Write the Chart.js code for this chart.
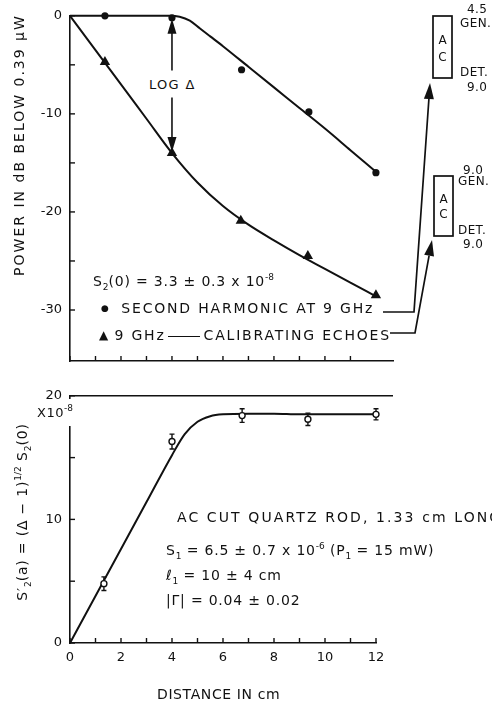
<!DOCTYPE html>
<html>
<head>
<meta charset="utf-8">
<script src="https://cdn.jsdelivr.net/npm/chart.js@4.4.1/dist/chart.umd.min.js"></script>
<style>
html,body{margin:0;padding:0;background:#fff;}
#wrap{position:relative;width:492px;height:706px;overflow:hidden;background:#fff;font-family:"DejaVu Sans",sans-serif;color:#111;}
canvas{position:absolute;left:0;}
svg{position:absolute;left:0;top:0;}
.t{position:absolute;white-space:nowrap;font-size:14px;line-height:1;letter-spacing:1.8px;transform:translateY(-50%);}
.r{position:absolute;white-space:nowrap;font-size:14px;line-height:1;letter-spacing:1.8px;transform:translate(-50%,-50%) rotate(-90deg);}
.c{position:absolute;white-space:nowrap;font-size:12px;line-height:1;transform:translate(-50%,-50%);}
.sm{font-size:12px;letter-spacing:0.4px;}
.num{letter-spacing:0.8px;}
sub,sup{font-size:9px;line-height:0;letter-spacing:0;}
.bg{background:#fff;padding:7px 3px;}
.dash{display:inline-block;width:32px;border-top:1.6px solid #111;vertical-align:middle;margin:0 4px 0 2px;}
.gap{position:absolute;background:#fff;}
.mk{position:relative;letter-spacing:0;}
</style>
</head>
<body>
<div id="wrap">
<canvas id="topChart" width="492" height="380" style="top:0px"></canvas>
<canvas id="botChart" width="492" height="326" style="top:380px"></canvas>
<svg width="492" height="706" viewBox="0 0 492 706">
  <g fill="none" stroke="#111" stroke-width="1.7">
    <rect x="433" y="16" width="19" height="62"/>
    <rect x="434" y="176" width="19" height="60"/>
    <polyline points="383,312 414,312 428.9,99"/>
    <polyline points="390,333 415,333 429.1,255.7"/>
  </g>
  <g fill="#111">
    <polygon points="430,83 433.9,99.35 423.9,98.65"/>
    <polygon points="432,240 434,256.6 424.2,254.8"/>
  </g>
</svg>

<div class="r" style="left:19px;top:145px;letter-spacing:2px;">POWER IN dB BELOW 0.39 μW</div>
<div class="t bg" style="left:146px;top:84px;font-size:13px;letter-spacing:1.3px;">LOG Δ</div>
<div class="t num" style="left:93px;top:281px;">S<sub>2</sub>(0) = 3.3 ± 0.3 x 10<sup>-8</sup></div>
<div class="t" style="left:101px;top:308px;"><span class="mk" style="font-size:9px;top:-2px;">●</span>&nbsp; SECOND HARMONIC AT 9 GHz</div>
<div class="t" style="left:99px;top:335px;"><span class="mk" style="font-size:12px;top:-1px;">▲</span> 9 GHz<span class="dash"></span>CALIBRATING ECHOES</div>

<div class="c" style="left:442.5px;top:40px;">A</div>
<div class="c" style="left:442.5px;top:57px;">C</div>
<div class="t sm" style="left:467px;top:9px;">4.5</div>
<div class="t sm" style="left:460px;top:23px;">GEN.</div>
<div class="t sm" style="left:460px;top:72px;">DET.</div>
<div class="t sm" style="left:467px;top:87px;">9.0</div>

<div class="c" style="left:443.5px;top:199px;">A</div>
<div class="c" style="left:443.5px;top:214px;">C</div>
<div class="t sm" style="left:463px;top:170px;">9.0</div>
<div class="t sm" style="left:458px;top:181px;">GEN.</div>
<div class="t sm" style="left:458px;top:230px;">DET.</div>
<div class="t sm" style="left:463px;top:244px;">9.0</div>

<div class="gap" style="left:66px;top:399px;width:9px;height:27px;"></div>
<div class="t" style="left:37px;top:412px;font-size:13px;letter-spacing:0.5px;">X10<sup>-8</sup></div>
<div class="r" style="left:22px;top:512px;letter-spacing:0.8px;">S′<sub>2</sub>(a) = (Δ − 1)<sup>1/2</sup> S<sub>2</sub>(0)</div>
<div class="t" style="left:177px;top:517px;letter-spacing:2.1px;">AC CUT QUARTZ ROD, 1.33 cm LONG</div>
<div class="t num" style="left:166px;top:550px;">S<sub>1</sub> = 6.5 ± 0.7 x 10<sup>-6</sup> (P<sub>1</sub> = 15 mW)</div>
<div class="t num" style="left:166px;top:575px;">ℓ<sub>1</sub> = 10 ± 4 cm</div>
<div class="t num" style="left:166px;top:600px;">|Γ| = 0.04 ± 0.02</div>
<div class="t" style="left:157px;top:694px;letter-spacing:0.6px;">DISTANCE IN cm</div>
</div>

<script>
// ---------- data ----------
const distanceTickLabels = [0, 2, 4, 6, 8, 10, 12];
const powerTickLabels = [0, -10, -20, -30];
const s2TickLabels = [0, 10, 20];

// upper panel: measured points
const harmonicX  = [1.37, 4.0, 6.73, 9.37, 12.0];
const harmonicDb = [0, -0.2, -5.5, -9.8, -16.0];
const echoX  = [1.37, 4.0, 6.7, 9.33, 12.0];
const echoDb = [-4.7, -14.0, -20.9, -24.5, -28.5];

// upper panel: drawn curves
const harmonicFitX  = [0, 3.9, 4.3, 4.7, 5.1, 5.5, 6.0, 7.0, 8.0, 9.0, 10.0, 11.0, 12.0];
const harmonicFitDb = [0, 0, -0.1, -0.5, -1.3, -2.1, -3.1, -5.2, -7.3, -9.4, -11.5, -13.7, -15.9];
const echoFitX  = [0, 1, 2, 3, 4, 5, 6, 7, 8, 9, 10, 11, 12];
const echoFitDb = [0, -3.5, -7.0, -10.5, -14.0, -17.0, -19.4, -21.3, -22.9, -24.4, -25.8, -27.2, -28.6];

// lower panel
const s2X   = [1.33, 4.0, 6.75, 9.33, 12.0];
const s2Val = [4.8, 16.3, 18.4, 18.1, 18.5];
const s2Err = [0.55, 0.6, 0.55, 0.5, 0.45];
const s2FitX   = [0, 1, 2, 3, 4, 4.5, 5, 5.5, 6, 7, 8, 9, 10, 11, 12];
const s2FitVal = [0, 3.8, 7.6, 11.4, 15.2, 16.9, 17.9, 18.35, 18.5, 18.55, 18.55, 18.5, 18.5, 18.5, 18.5];

// ---------- helpers ----------
const INK = '#111';
const pts = (xs, ys) => xs.map((x, i) => ({x: x, y: ys[i]}));
const tickFont = {family: 'DejaVu Sans', size: 13};

const inwardTicks = {
  id: 'inwardTicks',
  afterDraw(chart) {
    const ctx = chart.ctx, a = chart.chartArea;
    const xs = chart.scales.x, ys = chart.scales.y;
    ctx.save();
    ctx.strokeStyle = INK; ctx.lineWidth = 1.4;
    xs.ticks.forEach(t => {
      const p = xs.getPixelForValue(t.value);
      ctx.beginPath(); ctx.moveTo(p, a.bottom); ctx.lineTo(p, a.bottom - 5); ctx.stroke();
    });
    ys.ticks.forEach(t => {
      const p = ys.getPixelForValue(t.value);
      ctx.beginPath(); ctx.moveTo(a.left, p); ctx.lineTo(a.left + 5, p); ctx.stroke();
    });
    ctx.restore();
  }
};

const logDeltaArrow = {
  id: 'logDeltaArrow',
  afterDatasetsDraw(chart) {
    const ctx = chart.ctx, xs = chart.scales.x, ys = chart.scales.y;
    const x = xs.getPixelForValue(harmonicX[1]);
    const y1 = ys.getPixelForValue(harmonicDb[1]) + 1;
    const y2 = ys.getPixelForValue(echoDb[1]) - 1;
    ctx.save();
    ctx.strokeStyle = INK; ctx.fillStyle = INK; ctx.lineWidth = 1.6;
    ctx.beginPath(); ctx.moveTo(x, y1 + 12); ctx.lineTo(x, y2 - 12); ctx.stroke();
    ctx.beginPath(); ctx.moveTo(x, y1); ctx.lineTo(x - 4.5, y1 + 15); ctx.lineTo(x + 4.5, y1 + 15); ctx.closePath(); ctx.fill();
    ctx.beginPath(); ctx.moveTo(x, y2); ctx.lineTo(x - 4.5, y2 - 15); ctx.lineTo(x + 4.5, y2 - 15); ctx.closePath(); ctx.fill();
    ctx.restore();
  }
};

const errorBars = {
  id: 'errorBars',
  beforeDatasetsDraw(chart) {
    const ctx = chart.ctx, xs = chart.scales.x, ys = chart.scales.y;
    ctx.save();
    ctx.strokeStyle = INK; ctx.lineWidth = 1.4;
    s2X.forEach((xv, i) => {
      const x = xs.getPixelForValue(xv);
      const yt = ys.getPixelForValue(s2Val[i] + s2Err[i]);
      const yb = ys.getPixelForValue(s2Val[i] - s2Err[i]);
      ctx.beginPath();
      ctx.moveTo(x, yt); ctx.lineTo(x, yb);
      ctx.moveTo(x - 2.5, yt); ctx.lineTo(x + 2.5, yt);
      ctx.moveTo(x - 2.5, yb); ctx.lineTo(x + 2.5, yb);
      ctx.stroke();
    });
    ctx.restore();
  }
};

const topFrame = {
  id: 'topFrame',
  afterDraw(chart) {
    const ctx = chart.ctx, a = chart.chartArea, ys = chart.scales.y;
    const y = ys.getPixelForValue(ys.max);
    ctx.save();
    ctx.strokeStyle = INK; ctx.lineWidth = 1.6;
    ctx.beginPath(); ctx.moveTo(a.left, y); ctx.lineTo(a.right + 17, y); ctx.stroke();
    ctx.restore();
  }
};

const keepIntegers = s => { s.ticks = s.ticks.filter(t => Number.isInteger(t.value)); };

// ---------- upper chart ----------
new Chart(document.getElementById('topChart'), {
  type: 'scatter',
  data: {
    datasets: [
      {label: 'Second harmonic at 9 GHz', data: pts(harmonicX, harmonicDb), pointStyle: 'circle', pointRadius: 3.6,
       backgroundColor: INK, borderColor: INK, borderWidth: 0, clip: false},
      {label: '9 GHz calibrating echoes', data: pts(echoX, echoDb), pointStyle: 'triangle', pointRadius: 6,
       backgroundColor: INK, borderColor: INK, borderWidth: 0, clip: false},
      {label: 'harmonic curve', data: pts(harmonicFitX, harmonicFitDb), showLine: true, pointRadius: 0,
       borderColor: INK, borderWidth: 2, cubicInterpolationMode: 'monotone', fill: false, clip: false},
      {label: 'echo curve', data: pts(echoFitX, echoFitDb), showLine: true, pointRadius: 0,
       borderColor: INK, borderWidth: 2, cubicInterpolationMode: 'monotone', fill: false, clip: false}
    ]
  },
  options: {
    responsive: false, animation: false, events: [],
    layout: {padding: {top: 12, right: 99, bottom: 0, left: 0}},
    plugins: {legend: {display: false}, tooltip: {enabled: false}},
    scales: {
      x: {
        type: 'linear', min: 0, max: 12.67,
        afterBuildTicks: keepIntegers,
        ticks: {display: false, stepSize: 1},
        grid: {display: true, drawOnChartArea: false, drawTicks: false},
        border: {display: true, color: INK, width: 1.6},
        afterFit: s => { s.height = 19; }
      },
      y: {
        type: 'linear', min: -35.2, max: 0,
        afterBuildTicks: s => { s.ticks = s.ticks.filter(t => Number.isInteger(t.value / 5) && t.value > -35.1); },
        ticks: {stepSize: 5, autoSkip: false, padding: 8, color: INK, font: tickFont,
                callback: v => powerTickLabels.includes(v) ? String(v) : ''},
        grid: {display: true, drawOnChartArea: false, drawTicks: false},
        border: {display: true, color: INK, width: 1.6},
        afterFit: s => { s.width = 70; }
      }
    }
  },
  plugins: [inwardTicks, logDeltaArrow]
});

// ---------- lower chart ----------
new Chart(document.getElementById('botChart'), {
  type: 'scatter',
  data: {
    datasets: [
      {label: "S2'(a)", data: pts(s2X, s2Val), pointStyle: 'circle', pointRadius: 3,
       backgroundColor: '#fff', borderColor: INK, borderWidth: 1.4, clip: false},
      {label: 'fit', data: pts(s2FitX, s2FitVal), showLine: true, pointRadius: 0,
       borderColor: INK, borderWidth: 2, cubicInterpolationMode: 'monotone', fill: false, clip: false}
    ]
  },
  options: {
    responsive: false, animation: false, events: [],
    layout: {padding: {top: 14, right: 116, bottom: 0, left: 0}},
    plugins: {legend: {display: false}, tooltip: {enabled: false}},
    scales: {
      x: {
        type: 'linear', min: 0, max: 12,
        afterBuildTicks: keepIntegers,
        ticks: {stepSize: 1, autoSkip: false, maxRotation: 0, padding: 7, color: INK, font: tickFont,
                callback: v => distanceTickLabels.includes(v) ? String(v) : ''},
        grid: {display: true, drawOnChartArea: false, drawTicks: false},
        border: {display: true, color: INK, width: 1.6},
        afterFit: s => { s.height = 63; }
      },
      y: {
        type: 'linear', min: 0, max: 20,
        afterBuildTicks: s => { s.ticks = s.ticks.filter(t => Number.isInteger(t.value / 5)); },
        ticks: {stepSize: 5, autoSkip: false, padding: 8, color: INK, font: tickFont,
                callback: v => s2TickLabels.includes(v) ? String(v) : ''},
        grid: {display: true, drawOnChartArea: false, drawTicks: false},
        border: {display: true, color: INK, width: 1.6},
        afterFit: s => { s.width = 70; }
      }
    }
  },
  plugins: [errorBars, inwardTicks, topFrame]
});
</script>
</body>
</html>
